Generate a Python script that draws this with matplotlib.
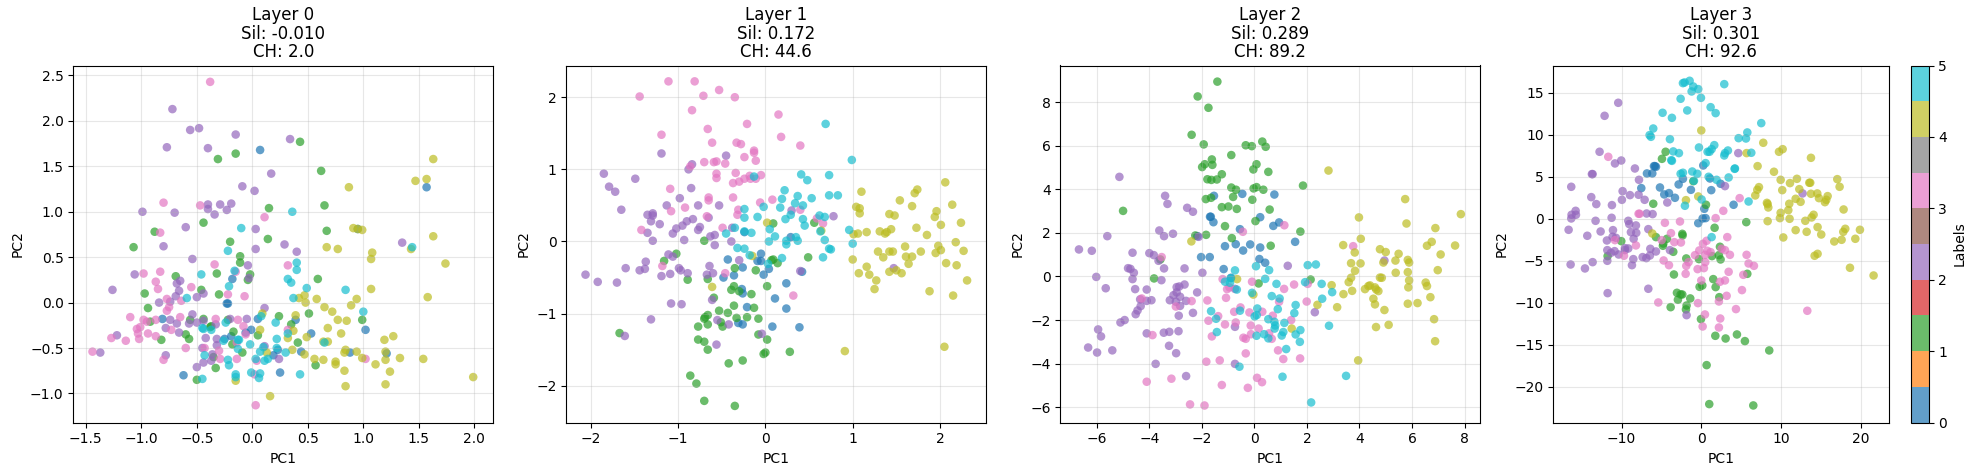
import matplotlib
matplotlib.use('Agg')
import matplotlib.pyplot as plt
import numpy as np

titles = ['Layer 0\nSil: -0.010\nCH: 2.0', 'Layer 1\nSil: 0.172\nCH: 44.6',
          'Layer 2\nSil: 0.289\nCH: 89.2', 'Layer 3\nSil: 0.301\nCH: 92.6']
xlims = [(-1.613, 2.171), (-2.28, 2.53), (-7.39, 8.6), (-18.55, 23.57)]
ylims = [(-1.32, 2.61), (-2.51, 2.44), (-6.70, 9.68), (-24.25, 18.25)]
xticks = [[-1.5, -1.0, -0.5, 0.0, 0.5, 1.0, 1.5, 2.0], [-2, -1, 0, 1, 2],
          [-6, -4, -2, 0, 2, 4, 6, 8], [-10, 0, 10, 20]]

# (PC1, PC2) read per label for each layer
l0_c0 = [(.07,1.68),(1.57,1.27),(.95,.81),(-.81,-.18),(-.18,.26),(-.23,-.01),(-.22,-.01),(.05,-.18),(.39,-.19),(.53,-.34),(1.02,-.30),(.88,-.55),(1.21,-.56),(-.06,-.33),(-.01,-.30),(-.19,-.37),(-.25,-.40),(.23,-.52),(.19,-.58),(.44,-.54),(-.62,-.80),(.25,-.77)]
l0_c1 = [(.43,1.77),(-.15,1.64),(-.31,1.58),(.62,1.45),(.65,1.07),(.15,1.04),(.67,.79),(-.44,.88),(-.88,.78),(-.20,.67),(.14,.70),(-1.07,.61),(-.11,.51),(-.11,.44),(-.32,.32),(-.69,.29),(-.02,.31),(-.04,.25),(.59,.26),(-.97,.10),(-.46,.14),(-.30,.09),(-.94,-.06),(.51,-.12),(.24,-.15),(.99,-.19),(-.92,-.21),(-.56,-.19),(-.44,-.18),(-.22,-.19),(.35,-.24),(-.38,-.27),(-.37,-.26),(-.17,-.32),(-.60,-.35),(-.57,-.40),(-.82,-.41),(.05,-.36),(-.18,-.46),(.41,-.44),(-.09,-.55),(-.35,-.60),(-.33,-.72),(.57,-.69),(-.50,-.85)]
l0_c2 = [(-.72,2.13),(-.56,1.90),(-.48,1.92),(-.15,1.85),(.34,1.80),(-.77,1.71),(-.40,1.70),(.17,1.42),(-.09,1.28),(.02,1.23),(-.40,1.08),(-.29,1.08),(-.19,1.09),(-.40,1.03),(-.23,1.02),(-.34,.97),(-.99,1.00),(-.70,.99),(-.60,.83),(.03,.81),(-.80,.62),(.03,.59),(.29,.64),(.40,.56),(1.35,.66),(-.54,.48),(-.04,.41),(-1.06,.31),(-.65,.24),(-.68,.21),(-.03,.27),(-1.26,.14),(-.66,.13),(-.69,.07),(-.44,.10),(-.50,.06),(-.84,0),(-.74,.01),(.11,-.06),(-.54,-.13),(-.74,-.19),(-.68,-.23),(-.78,-.28),(-.66,-.33),(-.57,-.23),(-.50,-.22),(-.44,-.20),(-.20,-.18),(-.05,-.18),(-.42,-.39),(-.32,-.40),(-.32,-.47),(-.45,-.50),(-1.22,-.36),(-1.37,-.55),(-.78,-.58),(-.36,-.57),(-.37,-.64),(-.44,-.66),(-.50,-.71),(.11,-.48),(.24,-.62),(-.33,-.24)]
l0_c3 = [(-.38,2.43),(-.80,1.10),(-.47,1.07),(.11,.94),(-.83,.77),(-.34,.42),(.32,.41),(-.98,.32),(-.83,.34),(-.15,.34),(-.87,.23),(-.85,.15),(-.55,.17),(-.07,.07),(-.22,.09),(-.77,.04),(-.64,.02),(-.75,-.05),(-.77,-.09),(-1.10,-.16),(-.65,-.16),(-.98,-.19),(-.95,-.21),(-.87,-.19),(-.33,-.18),(-.13,-.19),(-.08,-.26),(-1.01,-.27),(-1.04,-.29),(-1.03,-.34),(-1.02,-.40),(-.94,-.34),(-.87,-.37),(-1.27,-.39),(-1.14,-.42),(-.73,-.30),(-1.44,-.54),(-.60,-.50),(-.43,-.50),(-.30,-.53),(-.80,-.63),(-.29,-.62),(-.14,-.62),(.04,-.64),(.03,-1.13),(.32,-.30),(1.02,-.62),(.02,-.79),(-.06,-.35),(-.14,-.44)]
l0_c4 = [(1.63,1.58),(1.57,1.36),(1.47,1.34),(.87,1.27),(.91,.82),(.95,.81),(.99,.80),(1.63,.73),(.67,.61),(.77,.59),(1.43,.59),(1.08,.55),(1.07,.48),(1.74,.43),(1.07,.15),(1.58,.06),(.42,.05),(.47,.08),(.48,0),(.58,.04),(.94,.04),(.89,-.03),(.65,-.05),(.72,-.10),(.77,-.19),(.85,-.20),(.39,-.14),(.68,-.28),(.80,-.34),(.37,-.31),(.49,-.38),(.32,-.39),(.64,-.43),(.68,-.43),(1.19,-.41),(1.27,-.37),(.84,-.52),(.83,-.55),(.94,-.54),(.99,-.61),(1.20,-.54),(1.20,-.63),(1.11,-.68),(1.33,-.61),(1.54,-.62),(1.24,-.76),(1.20,-.90),(.84,-.92),(.83,-.75),(.75,-.65),(.75,-.68),(.64,-.63),(.56,-.62),(.47,-.57),(.36,-.52),(.13,-.55),(.16,-1.03),(1.99,-.82),(-.15,-.86),(.07,-.30),(.09,-.12)]
l0_c5 = [(.36,1.00),(-.10,.82),(-.22,.57),(.40,.44),(.40,.36),(-.46,.31),(.32,.26),(.35,.22),(-.21,.18),(.49,.16),(.84,.14),(-.59,.05),(.37,.05),(-.16,.35),(1.00,-.10),(1.44,.61),(.08,-.15),(.21,-.22),(-.24,-.22),(-.45,-.28),(-.44,-.29),(-.37,-.30),(.32,-.34),(.22,-.40),(-.12,-.41),(-.26,-.42),(-.02,-.46),(.10,-.49),(.07,-.54),(.22,-.50),(-.13,-.51),(-.43,-.58),(.30,-.55),(.65,-.44),(.11,-.64),(.14,-.62),(.03,-.62),(-.22,-.63),(-.21,-.69),(-.15,-.79),(-.15,-.82),(-.01,-.77),(.07,-.78),(.06,-.83),(.43,-.79),(-.45,-.84),(-.13,-.41)]

l1_c0 = [(-.24,.13),(.29,.06),(-.05,-.17),(-.43,-.25),(-.09,-.27),(-.05,-.27),(-.26,-.36),(.04,-.38),(.42,-.42),(-.02,-.46),(-.36,-.47),(-.48,-.50),(.24,-.58),(-.27,-.66),(-.26,-.72),(.11,-.79),(.24,-.93),(-.21,-.91),(-.31,-1.13),(-.26,-1.15),(.08,-1.18),(.39,-1.19)]
l1_c1 = [(.09,.25),(.56,.26),(-.70,.01),(-1.02,-.17),(-1.16,-.27),(.09,-.25),(.14,-.30),(.49,-.22),(-.35,-.37),(-.11,-.40),(-.89,-.53),(-.66,-.52),(.02,-.62),(-.36,-.62),(-.39,-.67),(-.30,-.69),(-.16,-.73),(-.59,-.78),(-.36,-.89),(-.53,-.96),(-.43,-.99),(-.13,-.92),(-.66,-1.02),(-.70,-1.07),(-.33,-1.06),(-.21,-1.05),(-.08,-1.07),(-.51,-1.12),(-.77,-1.18),(-.66,-1.15),(-.49,-1.18),(-1.67,-1.27),(-.08,-1.29),(.02,-1.36),(-.77,-1.36),(-.70,-1.39),(-.66,-1.50),(.28,-1.53),(0,-1.54),(-.02,-1.56),(-.26,-1.65),(-.42,-1.69),(-.86,-1.86),(-.79,-1.97),(-.70,-2.21),(-.35,-2.28),(-.69,-1.05),(.07,-.26)]
l1_c2 = [(-1.19,1.22),(-.45,1.19),(-.84,1.07),(-.88,1.00),(-1.85,.94),(-1.49,.87),(-1.79,.76),(-1.72,.69),(-.85,.74),(-.98,.60),(-1.65,.44),(-1.13,.50),(-.77,.50),(-.53,.50),(-1.35,.37),(-1.29,.39),(-1.29,.36),(-1.31,.28),(-1.21,.24),(-.65,.33),(-.83,.31),(-.90,.28),(-.95,.22),(-1.02,.18),(-1.06,.11),(-.75,.20),(-.77,.16),(-.38,.19),(-1.35,.12),(-1.29,.01),(-.93,.02),(-.63,.07),(-.58,.09),(-.39,0),(-.58,-.05),(-1.11,-.18),(-1.06,-.21),(-1.37,-.28),(-1.38,-.38),(-1.44,-.40),(-1.60,-.37),(-2.06,-.46),(-1.92,-.56),(-1.70,-.57),(-1.19,-.48),(-1.09,-.45),(-.99,-.37),(-.97,-.40),(-.89,-.44),(-.67,-.46),(-.64,-.34),(-.60,-.44),(-.30,-.26),(.40,-.41),(-1.08,-.86),(-.96,-.87),(-1.31,-1.08),(-.61,-.81),(-1.61,-1.31),(-.55,-1.09),(-.42,-1.15),(-.56,-1.43),(-.04,-1.28),(.78,.35),(.30,.43),(1.47,-.37)]
l1_c3 = [(-1.11,2.22),(-.81,2.22),(-.53,2.10),(-.71,2.02),(-1.44,2.01),(-.35,2.00),(-.84,1.82),(.15,1.76),(-.21,1.63),(-.66,1.56),(-1.19,1.48),(.18,1.45),(-.61,1.37),(-.33,1.37),(-.28,1.35),(.40,1.33),(-.13,1.26),(-.13,1.23),(-.24,1.17),(-.11,1.12),(-.70,1.10),(-.59,1.10),(-.56,1.11),(-.46,1.08),(-.86,1.04),(-.34,.95),(-.56,.94),(-.56,.88),(-.18,.91),(-.05,.92),(-.24,.87),(-.17,.87),(-.11,.87),(-.30,.83),(-.37,.81),(-1.09,.73),(-.37,.61),(-.65,.61),(-.65,.57),(.08,.58),(-.92,.47),(-.06,.54),(.40,.44),(-1.08,.42),(-.31,.44),(-.32,.37),(-.67,.35),(-1.42,.16),(-.49,.19),(.59,.32),(.66,.25),(-1.18,-.34),(-.46,-.44),(.32,-.75)]
l1_c4 = [(.02,.26),(1.10,.69),(1.74,.72),(1.71,.67),(2.06,.82),(1.54,.57),(1.04,.48),(1.08,.46),(1.08,.39),(1.68,.49),(2.14,.51),(1.96,.42),(1.94,.34),(1.42,.38),(1.48,.36),(2.24,.26),(2.01,.23),(1.73,.19),(1.44,.17),(1.39,.13),(1.31,.14),(1.37,.11),(1.16,.13),(1.06,.11),(1.01,.10),(1.85,.09),(.64,.15),(1.60,-.07),(1.98,-.06),(2.18,-.01),(2.27,-.13),(1.29,-.14),(1.42,-.14),(1.46,-.14),(1.78,-.14),(2.01,-.12),(1.95,-.16),(1.35,-.22),(1.61,-.21),(1.68,-.21),(1.00,-.25),(1.64,-.31),(2.07,-.30),(2.19,-.33),(1.16,-.35),(1.42,-.42),(1.50,-.40),(1.56,-.44),(1.07,-.44),(1.19,-.46),(1.27,-.54),(2.31,-.54),(1.25,-.66),(1.88,-.69),(2.15,-.75),(2.05,-1.46),(.91,-1.52),(-.15,-.20),(-.61,-.63)]
l1_c5 = [(.69,1.63),(.99,1.13),(.73,.92),(.41,.93),(.48,.85),(.22,.71),(.37,.63),(.73,.64),(.83,.64),(.53,.60),(.19,.59),(.34,.53),(.43,.50),(-.02,.48),(.17,.47),(-.24,.45),(.29,.37),(-.24,.33),(-.09,.34),(.23,.31),(.43,.31),(.62,.36),(.68,.34),(.45,.22),(.63,.14),(-.35,.19),(.05,.17),(.96,.16),(-.24,.14),(-.16,.12),(-.45,.11),(.11,.07),(.35,.06),(.37,.01),(.04,0),(.68,.02),(.24,.01),(.24,-.04),(1.00,-.03),(-.32,-.09),(-.24,-.10),(.73,-.10),(.75,-.11),(-.18,-.19),(.19,-.23),(.66,-.22),(.03,-.31),(-.13,.90)]

l2_c0 = [(-1.54,3.70),(-.46,3.79),(.76,3.76),(-1.69,2.74),(-1.66,2.74),(-1.56,2.49),(.22,2.72),(.94,2.48),(.72,2.32),(-.55,2.17),(-2.17,1.85),(-1.12,1.39),(-.71,1.48),(-.16,1.47),(.22,1.33),(-.43,1.19),(1.55,1.59),(-2.03,.89),(-1.70,.89),(.19,.80),(.41,.63),(-1.17,.34),(-.89,-.06)]
l2_c1 = [(-1.41,8.94),(-2.16,8.26),(-1.75,7.74),(-2.39,6.50),(-1.93,6.06),(.30,6.19),(-.33,6.02),(-.10,5.98),(.43,5.95),(-.88,5.57),(-1.62,5.37),(.08,5.15),(-1.60,5.12),(-1.89,5.15),(-1.99,5.02),(-.04,4.91),(.53,4.80),(-1.24,4.69),(-1.79,4.46),(-1.64,4.43),(-1.43,4.45),(1.85,4.17),(-.88,4.08),(-.70,3.98),(-.03,4.04),(.08,4.10),(.34,3.98),(-.81,3.65),(-1.85,3.55),(-1.65,3.61),(-.08,3.52),(-1.24,3.18),(-.99,3.21),(-.67,3.10),(.58,3.07),(-5.00,3.01),(.04,2.54),(-1.12,2.31),(1.75,2.06),(-2.25,1.88),(-1.84,1.91),(-.86,1.76),(.62,1.41),(-3.58,.78),(-3.82,-.09),(.16,-.32),(2.14,-.14)]
l2_c2 = [(-5.14,4.57),(-3.40,3.70),(-3.31,3.33),(-2.56,3.15),(-2.34,2.97),(-3.62,2.11),(-3.44,1.85),(-3.10,1.96),(-5.60,1.85),(-2.12,1.82),(-6.68,1.24),(-6.19,1.18),(-4.64,1.09),(-4.00,1.07),(-3.83,.98),(-3.65,.72),(-4.81,.38),(-4.72,.35),(-4.59,.17),(-3.44,.37),(-2.66,.37),(-1.98,.17),(1.27,.49),(4.95,.73),(-6.02,-.02),(-4.64,-.12),(-3.54,-.17),(-5.66,-.54),(-4.54,-.58),(-4.10,-.60),(-2.66,-.37),(-2.86,-.46),(-2.96,-.49),(-2.18,-.73),(-.74,-.57),(-3.08,-.86),(-2.96,-.73),(-2.83,-.93),(-3.22,-1.09),(-2.99,-1.16),(-2.60,-1.12),(-4.10,-1.12),(-3.92,-1.09),(-4.35,-1.05),(-4.33,-1.36),(-2.83,-1.35),(-4.45,-1.56),(-4.52,-1.73),(-2.88,-1.80),(-2.34,-1.67),(-4.94,-2.00),(-5.10,-2.11),(2.30,-1.64),(-5.95,-2.43),(-5.84,-2.75),(-4.10,-2.61),(-3.45,-2.58),(-3.24,-2.54),(-2.89,-2.51),(-.74,-2.31),(-6.33,-3.26),(-5.99,-3.49),(-5.41,-3.39),(-3.25,-3.18),(-2.98,-3.52),(-3.76,-4.01),(-.74,-4.01),(-2.60,-4.57)]
l2_c3 = [(1.14,2.35),(-.44,2.05),(3.76,1.39),(-3.53,.89),(-1.21,-.12),(-.09,-.24),(-.95,-.50),(-1.04,-.58),(1.13,-.57),(1.51,-.37),(2.03,-.34),(-1.08,-.98),(-4.29,-1.01),(-2.39,-1.13),(-1.79,-1.10),(.94,-1.16),(1.99,-1.15),(-2.99,-1.38),(-.53,-1.42),(-.77,-1.62),(-.19,-1.65),(.30,-1.62),(-1.38,-1.82),(.70,-1.80),(-1.75,-2.03),(1.40,-2.00),(-.71,-2.11),(-1.12,-2.20),(-.14,-2.25),(.16,-2.39),(-3.88,-2.69),(-1.62,-2.75),(.56,-2.61),(-.13,-2.65),(-.42,-2.81),(-.33,-2.86),(.66,-2.86),(.90,-3.39),(-.33,-3.53),(1.10,-3.79),(1.74,-3.76),(-1.83,-3.91),(-1.32,-3.85),(-4.10,-4.83),(-3.16,-4.69),(.10,-4.65),(.29,-4.85),(-1.24,-4.98),(-.25,-5.11),(-2.45,-5.87),(-1.90,-5.92)]
l2_c4 = [(2.82,4.86),(5.74,3.55),(3.98,2.71),(7.86,2.86),(5.79,2.43),(6.89,2.22),(4.05,1.73),(-2.40,1.61),(3.38,1.44),(6.75,1.59),(6.57,1.41),(7.64,1.42),(4.78,1.25),(3.82,1.10),(5.00,1.12),(5.49,1.04),(7.09,1.01),(5.37,.73),(5.84,.76),(3.68,.61),(4.04,.60),(4.91,.64),(5.89,.64),(3.83,.26),(5.38,.17),(5.84,.20),(6.98,.29),(-.66,-.12),(4.78,-.05),(4.85,-.06),(3.68,-.06),(3.59,-.26),(5.89,-.18),(6.52,-.28),(2.94,-.40),(6.57,-.44),(4.40,-.41),(4.34,-.44),(4.59,-.50),(5.86,-.50),(4.21,-.58),(4.64,-.60),(4.72,-.67),(3.72,-.66),(3.39,-.81),(-.04,-.83),(4.53,-1.02),(6.70,-.95),(6.21,-1.22),(5.84,-1.25),(4.59,-1.28),(2.40,-1.30),(3.15,-1.41),(4.95,-1.54),(6.84,-1.96),(5.11,-2.22),(4.63,-2.32),(1.42,-2.39),(6.88,-2.97),(3.95,-3.85)]
l2_c5 = [(2.03,.52),(2.34,.55),(-.74,.28),(.06,.47),(.56,.29),(.41,-.11),(-.90,-.08),(-1.12,-.24),(-.93,-.29),(1.93,-.26),(2.56,-.34),(.84,-.34),(2.96,-.72),(-.09,-.75),(-.67,-.60),(.66,-.90),(.96,-1.01),(2.58,-1.02),(1.57,-1.31),(.11,-1.47),(.89,-1.50),(-1.65,-1.59),(-.55,-1.57),(1.52,-1.68),(.09,-1.77),(.01,-1.83),(.53,-1.96),(-1.46,-1.94),(.76,-2.08),(1.14,-2.13),(.79,-2.25),(2.84,-2.26),(.77,-2.39),(1.75,-2.46),(-1.43,-2.55),(1.10,-2.55),(1.57,-2.66),(.37,-2.65),(.08,-2.72),(1.04,-2.71),(.53,-2.84),(1.73,-3.00),(1.21,-3.33),(-.57,-4.14),(1.07,-4.60),(3.49,-4.56),(2.16,-5.78)]

l3_c0 = [(-5.81,6.27),(-5.68,6.19),(-6.81,5.40),(-6.14,5.40),(.25,6.35),(-2.30,4.76),(1.09,4.80),(-2.84,4.09),(2.42,4.17),(-7.52,3.65),(-5.18,3.73),(-1.30,3.45),(1.25,3.41),(-4.64,2.90),(-4.05,3.06),(-3.30,2.50),(4.05,1.67),(.38,1.19),(.17,.04),(.54,.08),(-.38,-.52),(-5.93,6.27)]
l3_c1 = [(-4.47,7.98),(-4.93,7.14),(-1.00,4.48),(-6.02,1.79),(.59,1.67),(5.64,-.40),(1.67,-1.07),(-2.38,-1.79),(-2.34,-1.98),(-5.68,-2.18),(-4.30,-2.38),(-10.03,-2.66),(-4.76,-2.94),(-4.81,-3.21),(2.34,-3.33),(-3.51,-3.93),(2.21,-4.33),(1.34,-4.44),(-11.74,-4.44),(-1.88,-4.72),(2.42,-4.84),(-.29,-4.80),(-3.43,-6.63),(5.77,-6.55),(1.50,-7.18),(-.21,-8.10),(.13,-7.94),(1.80,-8.13),(-3.05,-8.81),(-2.59,-9.01),(-2.38,-9.01),(-2.93,-9.64),(-1.38,-9.48),(2.26,-9.33),(-3.84,-10.52),(-1.84,-10.32),(-1.92,-10.79),(-.04,-11.94),(1.76,-13.93),(3.05,-14.25),(4.47,-13.77),(5.47,-14.56),(8.52,-15.67),(.67,-17.42),(1.00,-22.06),(6.52,-22.22)]
l3_c2 = [(-10.41,13.81),(-12.12,12.26),(-12.75,7.98),(-10.03,6.94),(-10.82,6.59),(-8.32,5.99),(-13.71,5.32),(-13.62,5.32),(-7.81,4.64),(-16.30,3.81),(2.97,3.89),(4.64,7.82),(12.70,3.02),(-9.86,3.29),(-8.94,2.82),(-7.86,2.86),(-13.79,2.58),(-9.95,2.26),(-7.10,2.26),(-4.26,1.94),(-13.16,1.75),(-11.20,1.63),(-15.75,.95),(-16.26,.48),(-15.71,.48),(-16.30,.04),(-6.85,.63),(-6.10,.56),(-11.24,.12),(-13.25,-.24),(-9.15,-.24),(-9.03,-.63),(-8.19,-.79),(-6.64,-1.23),(-16.63,-1.31),(-11.07,-1.35),(-12.62,-1.51),(-8.82,-1.59),(-8.15,-1.67),(-14.29,-2.02),(-11.12,-2.14),(-10.70,-2.26),(-8.48,-2.38),(-11.83,-2.58),(-6.39,-3.57),(-9.57,-3.49),(-9.15,-3.53),(-9.57,-3.73),(-11.78,-3.73),(-10.87,-3.85),(-11.32,-4.05),(-5.68,-3.89),(-10.36,-4.25),(-6.44,-4.37),(-7.35,-4.56),(-6.89,-4.68),(-8.52,-4.80),(-11.78,-5.00),(-13.62,-5.16),(-16.38,-5.44),(-8.69,-5.52),(-14.58,-5.91),(-6.64,-8.33),(-11.74,-8.85),(-1.84,-11.47),(-3.93,-3.73)]
l3_c3 = [(-11.66,7.38),(4.81,2.46),(-7.86,.60),(-7.73,.60),(2.76,.95),(1.80,.08),(-4.56,-.48),(-2.67,-.32),(-3.80,-1.71),(3.26,-2.18),(-10.82,-2.54),(-3.38,-2.78),(-2.55,-2.82),(.67,-2.62),(.21,-2.98),(-8.19,-3.17),(2.55,-3.57),(2.97,-3.73),(-.25,-3.77),(.75,-3.81),(3.59,-4.29),(-.79,-4.33),(.50,-4.29),(1.17,-3.97),(5.68,-4.29),(-9.69,-4.40),(-1.59,-5.16),(-4.72,-4.96),(.50,-5.16),(-4.05,-5.52),(-1.88,-5.60),(5.93,-5.32),(6.60,-5.60),(-.46,-5.99),(.33,-5.87),(3.43,-6.31),(-1.96,-6.55),(5.27,-6.67),(2.97,-7.34),(2.34,-7.50),(0,-7.34),(5.10,-8.49),(3.18,-9.17),(2.21,-9.84),(-5.39,-9.96),(-.42,-10.04),(4.35,-10.75),(13.29,-10.95),(.46,-11.39),(2.38,-11.87),(2.21,-12.94),(.17,-12.82),(-4.97,-2.54)]
l3_c4 = [(0,10.52),(7.77,9.05),(9.74,7.98),(10.20,8.29),(5.68,7.82),(13.75,7.26),(7.06,6.27),(9.11,5.60),(9.95,4.64),(11.99,4.76),(17.05,4.72),(11.12,4.25),(13.54,4.29),(13.66,4.29),(17.34,3.81),(7.23,3.77),(7.02,3.45),(12.29,3.53),(10.15,3.41),(13.75,2.98),(14.54,3.02),(6.77,2.78),(-.38,2.66),(15.84,2.70),(14.75,2.46),(11.83,2.38),(-1.92,2.22),(15.67,2.26),(15.50,1.98),(12.45,2.02),(8.23,1.90),(8.32,1.75),(11.03,1.79),(8.40,1.35),(17.84,1.11),(10.91,1.03),(9.95,.71),(14.08,.48),(9.86,.08),(13.83,.16),(11.07,0),(8.32,-.28),(13.04,-.24),(14.58,-.99),(18.05,-1.19),(11.83,-1.35),(13.21,-1.55),(17.80,-1.55),(19.89,-1.31),(15.04,-1.87),(10.28,-2.22),(-6.14,-1.75),(19.31,-2.38),(17.59,-2.50),(16.67,-2.70),(14.58,-4.17),(14.21,-4.40),(18.64,-5.83),(21.60,-6.75)]
l3_c5 = [(-1.46,16.43),(2.88,16.03),(-2.30,16.15),(-2.09,16.23),(-1.00,15.75),(-.38,15.44),(-1.21,15.16),(-.04,14.40),(-2.59,14.29),(-1.76,12.90),(1.17,13.29),(1.80,12.58),(-4.85,12.62),(-3.68,12.02),(7.52,11.39),(-6.02,10.75),(5.77,10.28),(-6.48,9.96),(-6.31,9.76),(-3.93,9.48),(4.68,9.60),(5.60,9.56),(1.63,8.77),(-.29,8.49),(1.30,8.29),(-3.51,8.02),(-2.80,7.82),(.79,7.98),(1.04,7.98),(3.34,8.13),(2.97,7.82),(2.88,7.54),(6.27,7.86),(-3.76,6.98),(-3.68,6.90),(.54,6.63),(4.22,5.99),(4.18,5.95),(-1.13,5.63),(-2.30,5.48),(-2.59,5.36),(-.50,5.36),(.92,5.00),(1.92,4.64),(3.43,4.92),(-.92,4.52),(.04,2.30),(5.93,2.06),(-2.05,1.55),(1.30,-2.18)]

layers = [[l0_c0, l0_c1, l0_c2, l0_c3, l0_c4, l0_c5],
          [l1_c0, l1_c1, l1_c2, l1_c3, l1_c4, l1_c5],
          [l2_c0, l2_c1, l2_c2, l2_c3, l2_c4, l2_c5],
          [l3_c0, l3_c1, l3_c2, l3_c3, l3_c4, l3_c5]]

W, H = 1976, 475
fig = plt.figure(figsize=(W / 100, H / 100), dpi=100)
lefts = [73.3, 566.3, 1060.3, 1553.3]
widths = [420, 420, 420, 336]

for i, groups in enumerate(layers):
    ax = fig.add_axes([lefts[i] / W, 1 - 422.5 / H, widths[i] / W, 357 / H])
    pts = np.array([p for g in groups for p in g])
    labels = np.concatenate([[k] * len(g) for k, g in enumerate(groups)])
    sc = ax.scatter(pts[:, 0], pts[:, 1], c=labels, cmap='tab10', vmin=0, vmax=5, s=38, alpha=0.7, linewidths=0)
    ax.set_xlim(xlims[i])
    ax.set_ylim(ylims[i])
    ax.set_xticks(xticks[i])
    ax.set_title(titles[i], linespacing=1.03)
    ax.set_xlabel('PC1')
    ax.set_ylabel('PC2')
    ax.grid(True, alpha=0.3)

cax = fig.add_axes([1911 / W, 1 - 422.5 / H, 17.5 / W, 357 / H])
cb = fig.colorbar(sc, cax=cax)
cb.set_label('Labels')

plt.savefig('out.png', dpi=100)
